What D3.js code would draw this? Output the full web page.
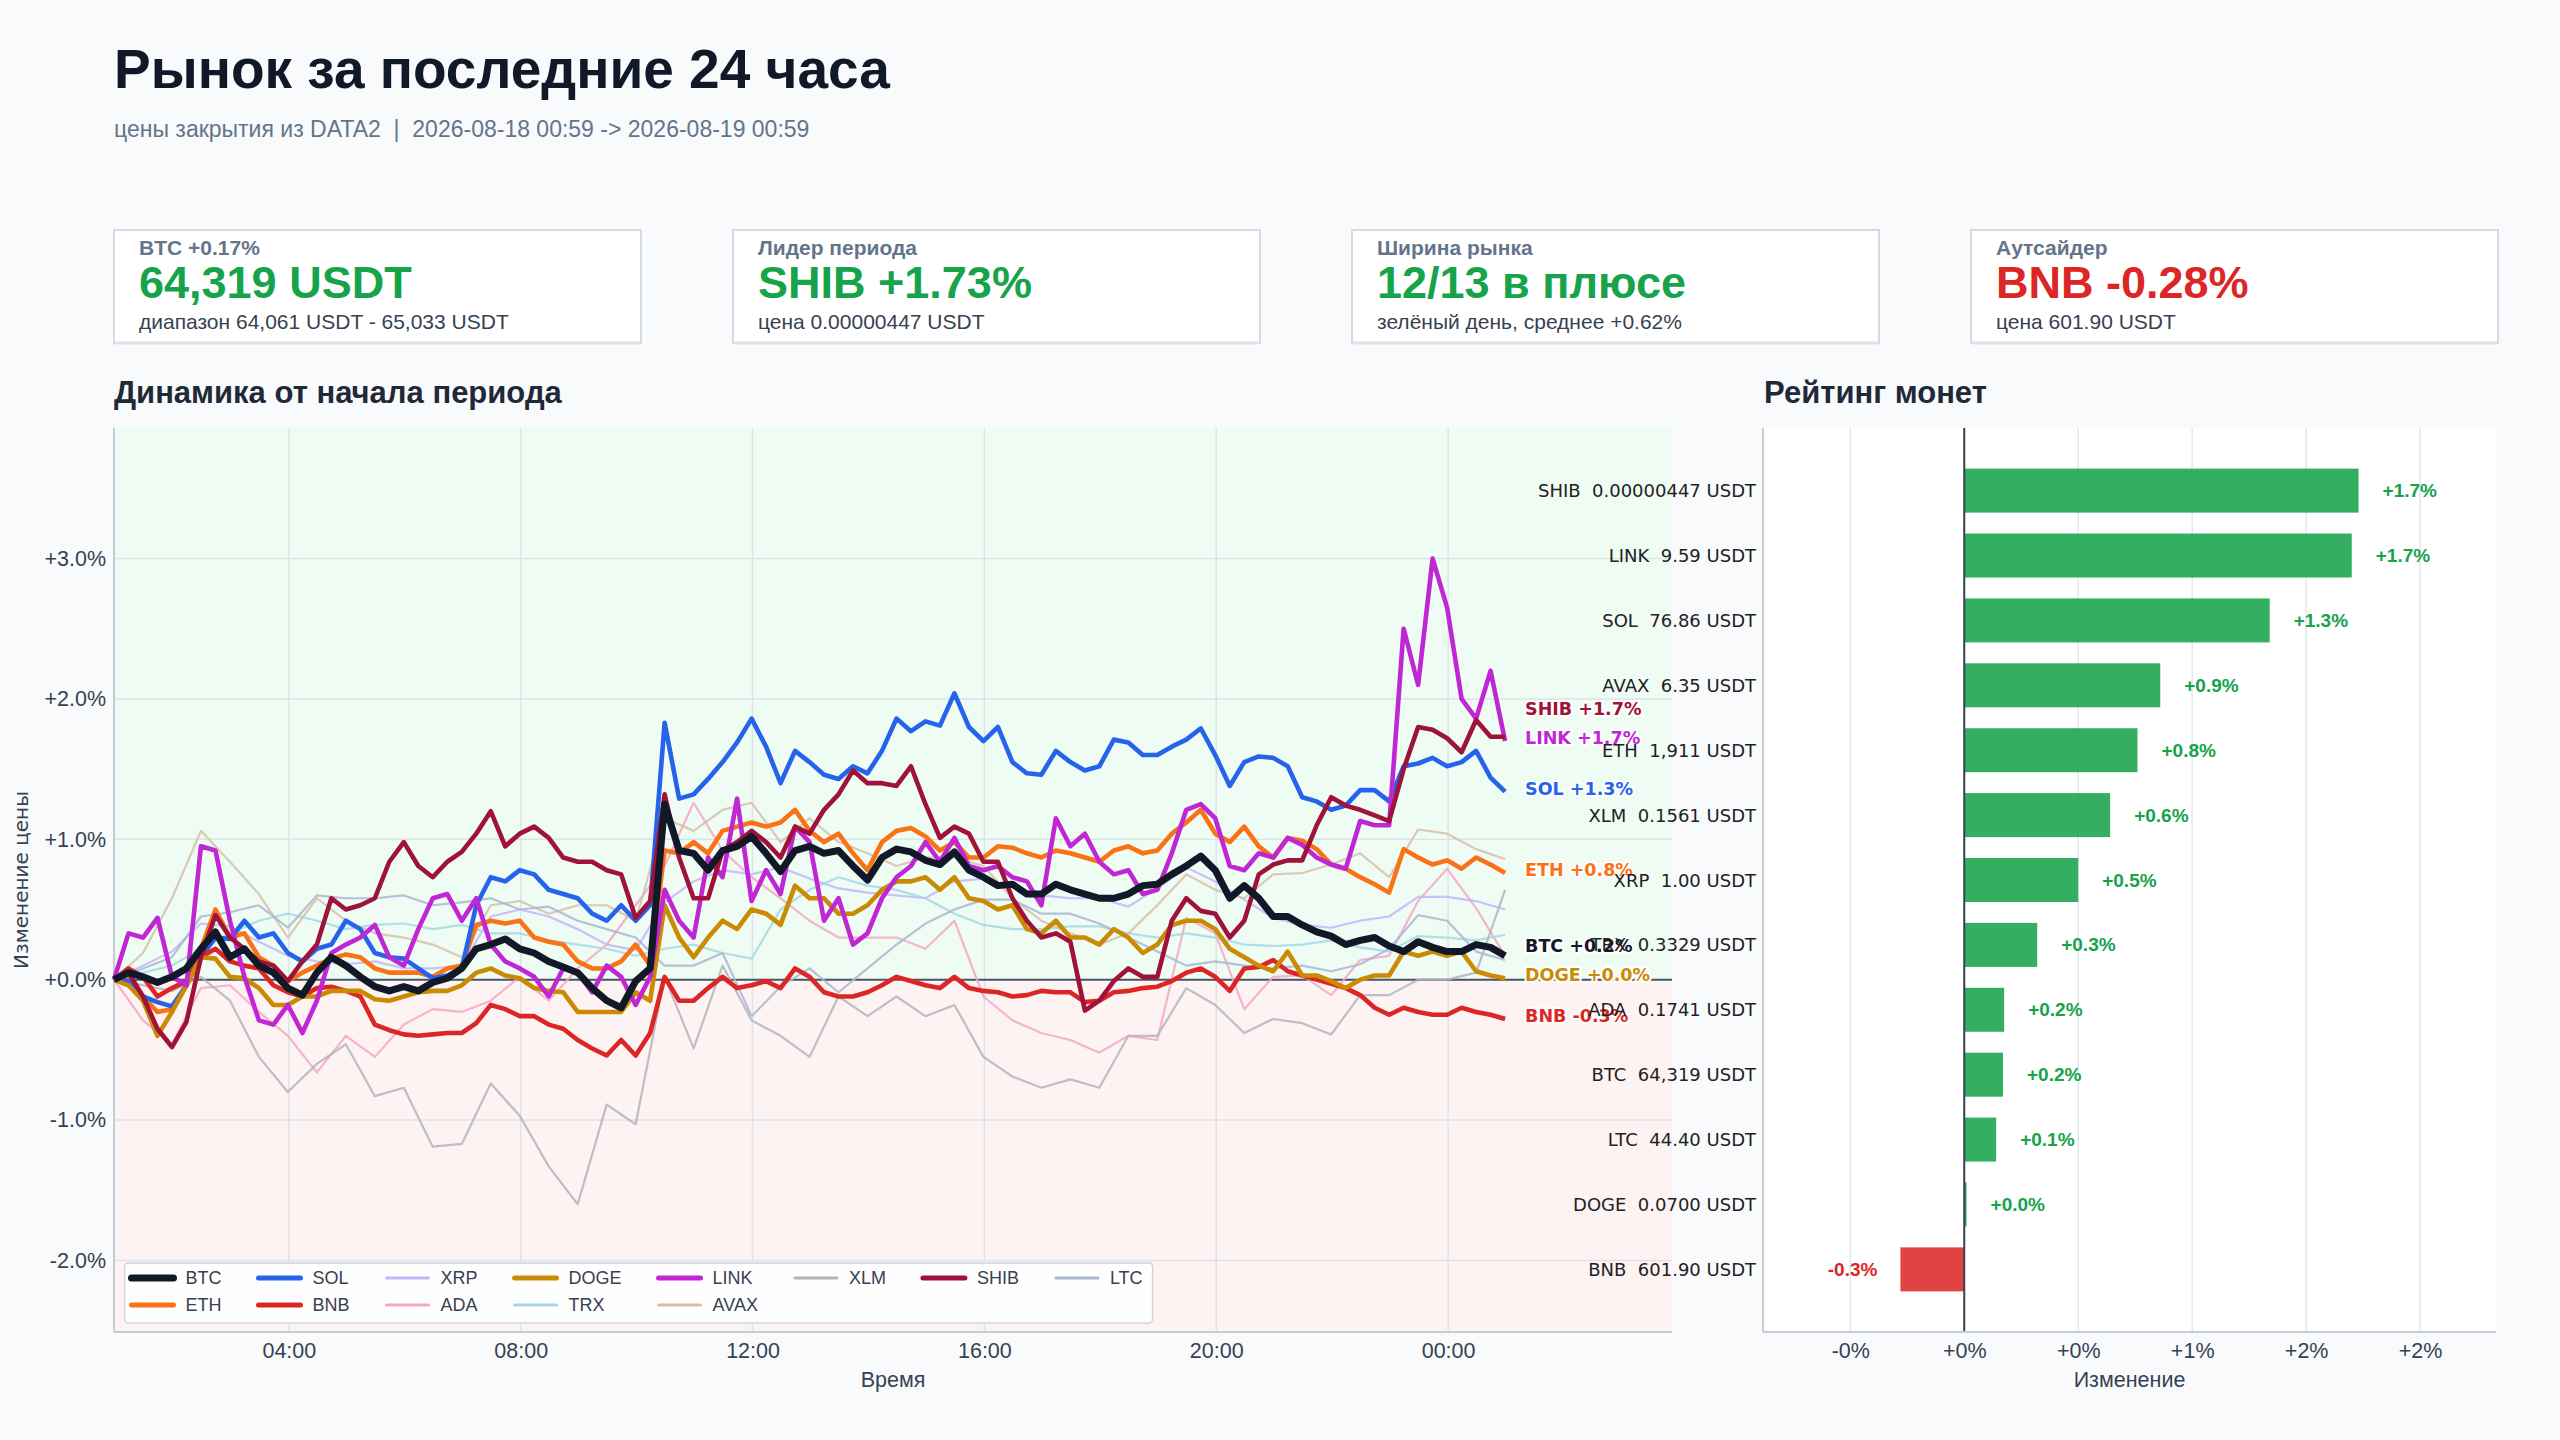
<!DOCTYPE html>
<html>
<head>
<meta charset="utf-8">
<script src="https://cdn.jsdelivr.net/npm/d3@7"></script>
<style>
  body { margin: 0; background: #f8fafc; }
  text { font-family: 'Liberation Sans', Arial, sans-serif; white-space: pre; }
</style>
</head>
<body>
<svg id="page" width="2560" height="1440"></svg>
<script>
// --- data ---
var coins = ['BTC', 'ETH', 'SOL', 'BNB', 'XRP', 'ADA', 'DOGE', 'TRX', 'LINK', 'AVAX', 'XLM', 'SHIB', 'LTC']
var highlighted = ['BTC', 'ETH', 'SOL', 'BNB', 'DOGE', 'LINK', 'SHIB']
var periodStart = new Date(2026, 7, 18, 0, 59)
var periodEnd = new Date(2026, 7, 19, 0, 59)

// % change from the first close, every 15 min (thick lines)
var btc = [0,0.05,0.02,-0.02,0.02,0.08,0.22,0.34,0.16,0.22,0.10,0.05,-0.06,-0.11,0.05,0.16,0.10,0.02,-0.05,-0.08,-0.05,-0.08,-0.02,0.01,0.08,0.22,0.25,0.29,0.22,
  0.19,0.13,0.09,0.05,-0.06,-0.15,-0.20,-0.01,0.08,1.25,0.92,0.90,0.78,0.92,0.95,1.02,0.90,0.77,0.92,0.95,0.90,0.92,0.81,0.71,0.87,0.93,0.91,0.85,
  0.82,0.91,0.78,0.73,0.67,0.68,0.61,0.61,0.68,0.64,0.61,0.58,0.58,0.61,0.67,0.68,0.75,0.81,0.88,0.78,0.58,0.67,0.58,
  0.45,0.45,0.39,0.34,0.31,0.25,0.28,0.30,0.24,0.20,0.27,0.23,0.20,0.20,0.25,0.23,0.17]
var eth = [0,0.01,-0.12,-0.23,-0.21,-0.04,0.22,0.50,0.30,0.33,0.16,0.10,-0.01,0.05,0.10,0.15,0.18,0.16,0.08,0.05,0.05,0.05,0.02,0.08,0.10,0.39,0.42,0.40,0.42,
  0.30,0.27,0.25,0.13,0.08,0.08,0.13,0.25,0.10,0.92,0.90,0.98,0.90,1.06,1.09,1.12,1.09,1.12,1.21,1.06,0.98,1.04,0.90,0.78,0.98,1.06,1.08,1.02,
  0.92,0.98,0.87,0.87,0.95,0.94,0.90,0.87,0.92,0.90,0.87,0.84,0.92,0.95,0.90,0.92,1.04,1.12,1.21,1.04,0.98,1.09,0.95,
  0.87,1.01,0.99,0.93,0.82,0.79,0.73,0.68,0.62,0.93,0.87,0.82,0.85,0.79,0.87,0.82,0.76]
var sol = [0,-0.01,-0.12,-0.16,-0.19,-0.04,0.16,0.30,0.29,0.42,0.30,0.33,0.19,0.13,0.22,0.25,0.42,0.36,0.19,0.16,0.15,0.08,0.01,0.03,0.08,0.53,0.73,0.70,0.78,
  0.75,0.64,0.61,0.58,0.47,0.42,0.53,0.42,0.53,1.83,1.29,1.32,1.43,1.55,1.69,1.86,1.66,1.40,1.63,1.55,1.46,1.43,1.52,1.47,1.63,1.86,1.77,1.84,
  1.81,2.04,1.80,1.70,1.80,1.55,1.47,1.46,1.63,1.55,1.49,1.52,1.71,1.69,1.60,1.60,1.66,1.71,1.79,1.60,1.38,1.55,1.59,
  1.58,1.52,1.30,1.27,1.21,1.24,1.35,1.35,1.27,1.52,1.54,1.58,1.52,1.55,1.63,1.44,1.34]
var bnb = [0,0.08,0.02,-0.12,-0.06,-0.01,0.16,0.22,0.13,0.10,0.08,-0.04,-0.09,-0.12,-0.06,-0.05,-0.08,-0.12,-0.32,-0.36,-0.39,-0.40,-0.39,-0.38,-0.38,-0.31,-0.18,-0.21,-0.26,
  -0.26,-0.32,-0.35,-0.43,-0.49,-0.54,-0.43,-0.54,-0.38,0.02,-0.15,-0.15,-0.06,0.02,-0.06,-0.04,-0.01,-0.06,0.08,0.02,-0.09,-0.12,-0.12,-0.09,-0.04,0.02,-0.01,-0.04,
  -0.06,0.02,-0.06,-0.08,-0.09,-0.12,-0.11,-0.08,-0.09,-0.09,-0.16,-0.15,-0.09,-0.08,-0.06,-0.05,-0.01,0.05,0.08,0.02,-0.08,0.08,0.09,
  0.14,0.06,0.03,0.00,-0.03,-0.06,-0.11,-0.20,-0.25,-0.20,-0.23,-0.25,-0.25,-0.20,-0.23,-0.25,-0.28]
var doge = [0,-0.04,-0.15,-0.40,-0.23,-0.04,0.16,0.15,0.02,0.01,-0.06,-0.18,-0.18,-0.12,-0.12,-0.08,-0.08,-0.08,-0.14,-0.15,-0.12,-0.09,-0.08,-0.08,-0.04,0.05,0.08,0.03,0.01,
  -0.06,-0.08,-0.09,-0.23,-0.23,-0.23,-0.23,-0.09,-0.15,0.53,0.30,0.16,0.30,0.42,0.36,0.50,0.47,0.39,0.67,0.58,0.58,0.47,0.47,0.53,0.64,0.70,0.70,0.73,
  0.64,0.73,0.58,0.56,0.50,0.53,0.36,0.33,0.42,0.30,0.30,0.25,0.36,0.30,0.19,0.25,0.39,0.42,0.42,0.36,0.22,0.16,0.10,
  0.06,0.20,0.03,0.03,-0.01,-0.06,0.00,0.03,0.03,0.20,0.17,0.20,0.17,0.20,0.06,0.03,0.01]
var link = [0,0.33,0.30,0.44,0.02,-0.04,0.95,0.92,0.42,0.02,-0.29,-0.32,-0.18,-0.38,-0.15,0.19,0.25,0.30,0.39,0.16,0.10,0.36,0.58,0.61,0.42,0.58,0.25,0.13,0.08,
  0.02,-0.12,0.08,0.05,-0.09,0.10,0.02,-0.18,0.02,0.64,0.42,0.30,0.87,0.73,1.29,0.56,0.78,0.61,1.09,0.98,0.42,0.58,0.25,0.33,0.58,0.73,0.81,0.98,
  0.84,1.01,0.81,0.78,0.81,0.73,0.70,0.53,1.15,0.95,1.04,0.84,0.75,0.78,0.61,0.64,0.90,1.21,1.25,1.15,0.81,0.78,0.90,
  0.87,1.01,0.96,0.87,0.82,0.79,1.13,1.10,1.10,2.50,2.10,3.00,2.65,2.00,1.86,2.20,1.70]
var shib = [0,0.05,-0.12,-0.35,-0.48,-0.30,0.16,0.46,0.30,0.22,0.13,0.10,-0.01,0.13,0.25,0.58,0.50,0.53,0.58,0.84,0.98,0.81,0.73,0.84,0.91,1.04,1.20,0.95,1.04,
  1.09,1.01,0.87,0.84,0.84,0.78,0.75,0.44,0.56,1.32,0.87,0.58,0.58,0.92,0.98,1.06,0.98,0.87,1.09,1.04,1.21,1.32,1.49,1.40,1.40,1.38,1.52,1.25,
  1.01,1.09,1.04,0.84,0.84,0.58,0.42,0.30,0.33,0.27,-0.22,-0.15,-0.01,0.08,0.02,0.02,0.42,0.58,0.49,0.47,0.30,0.42,0.75,
  0.82,0.85,0.85,1.10,1.30,1.24,1.21,1.17,1.13,1.50,1.80,1.78,1.72,1.62,1.85,1.73,1.73]

// every 30 min (thin lines)
var xrp = [0,0.10,0.20,0.40,0.38,0.27,0.17,0.13,0.11,0.13,0.08,0.08,0.10,0.45,0.50,0.45,0.36,0.25,0.21,0.55,0.70,0.78,0.75,0.80,0.72,
  0.65,0.62,0.60,0.58,0.70,0.72,0.66,0.60,0.58,0.58,0.52,0.65,0.80,0.70,0.57,0.44,0.39,0.37,0.42,0.45,0.59,0.59,0.56,0.50]
var ada = [0,-0.29,-0.46,-0.06,-0.04,-0.23,-0.40,-0.66,-0.40,-0.55,-0.32,-0.21,-0.23,-0.15,0.02,-0.15,0.08,0.25,0.53,0.81,1.26,0.92,0.73,0.58,0.42,
  0.30,0.30,0.30,0.22,0.42,-0.12,-0.29,-0.38,-0.43,-0.52,-0.40,-0.43,0.44,0.33,-0.21,0.02,0.03,-0.11,0.14,0.17,0.56,0.79,0.51,0.17]
var trx = [0,0.05,0.10,0.22,0.33,0.42,0.47,0.42,0.36,0.39,0.40,0.36,0.39,0.33,0.33,0.28,0.25,0.22,0.17,0.22,0.25,0.19,0.15,0.50,0.64,
  0.73,0.67,0.64,0.58,0.47,0.39,0.36,0.36,0.38,0.38,0.33,0.30,0.33,0.30,0.25,0.24,0.25,0.28,0.23,0.20,0.31,0.30,0.28,0.32]
var avax = [0,0.19,0.58,1.06,0.84,0.61,0.30,0.58,0.42,0.33,0.30,0.25,0.16,0.53,0.56,0.47,0.53,0.53,0.42,1.15,1.06,1.21,1.26,0.98,1.15,
  0.98,0.90,0.81,0.87,0.87,0.81,0.58,0.42,0.33,0.25,0.33,0.53,0.75,0.64,0.58,0.75,0.76,0.82,0.90,0.73,1.07,1.04,0.93,0.86]
var xlm = [0,-0.04,-0.08,0.02,-0.15,-0.55,-0.80,-0.60,-0.46,-0.83,-0.77,-1.19,-1.17,-0.74,-0.97,-1.33,-1.60,-0.89,-1.03,0.02,-0.49,0.10,-0.29,-0.40,-0.55,
  -0.12,-0.26,-0.12,-0.26,-0.18,-0.55,-0.69,-0.77,-0.71,-0.77,-0.40,-0.40,-0.06,-0.18,-0.38,-0.28,-0.31,-0.39,-0.11,-0.11,0.00,0.00,0.05,0.64]
var ltc = [0,0.08,0.16,0.45,0.48,0.53,0.37,0.60,0.58,0.58,0.60,0.53,0.55,0.58,0.50,0.52,0.42,0.36,0.30,0.10,0.10,0.19,-0.26,-0.05,0.08,
  -0.09,0.08,0.25,0.40,0.50,0.57,0.57,0.47,0.47,0.40,0.30,0.20,0.10,0.13,0.10,0.08,0.10,0.06,0.11,0.22,0.46,0.42,0.20,0.14]

// ranking panel
var rankCoins = ['SHIB', 'LINK', 'SOL', 'AVAX', 'ETH', 'XLM', 'XRP', 'TRX', 'ADA', 'BTC', 'LTC', 'DOGE', 'BNB']
var rankChange = [1.73, 1.70, 1.34, 0.86, 0.76, 0.64, 0.50, 0.32, 0.175, 0.17, 0.14, 0.01, -0.28]
var rankPrice = ['0.00000447', '9.59', '76.86', '6.35', '1,911', '0.1561', '1.00', '0.3329', '0.1741', '64,319', '44.40', '0.0700', '601.90']

var yTicks = [-2, -1, 0, 1, 2, 3]
var xTickHours = [4, 8, 12, 16, 20, 24]
var barTicks = [-0.5, 0, 0.5, 1, 1.5, 2]
var barTickLabels = ['-0%', '+0%', '+0%', '+1%', '+2%', '+2%']

var cardLabels = ['BTC +0.17%', 'Лидер периода', 'Ширина рынка', 'Аутсайдер']
var cardValues = ['64,319 USDT', 'SHIB +1.73%', '12/13 в плюсе', 'BNB -0.28%']
var cardNotes = ['диапазон 64,061 USDT - 65,033 USDT', 'цена 0.00000447 USDT', 'зелёный день, среднее +0.62%', 'цена 601.90 USDT']
var cardUp = [true, true, true, false]

var series = { BTC: btc, ETH: eth, SOL: sol, BNB: bnb, XRP: xrp, ADA: ada, DOGE: doge, TRX: trx, LINK: link, AVAX: avax, XLM: xlm, SHIB: shib, LTC: ltc }

// --- styles ---
var colors = {
  BTC: '#111827', ETH: '#f97316', SOL: '#2563eb', BNB: '#dc2626', XRP: '#c4b5fd', ADA: '#f4a7c6', DOGE: '#ca8a04',
  TRX: '#a5d8e2', LINK: '#c026d3', AVAX: '#d6bfa8', XLM: '#b4b4bc', SHIB: '#9f1239', LTC: '#a9b6d3'
}
var GREEN = '#16a34a', RED = '#dc2626'
function isThick(c) { return highlighted.indexOf(c) >= 0 }
function widthOf(c) { return c === 'BTC' ? 7 : (isThick(c) ? 4.6 : 2.2) }

// hyphen instead of unicode minus, like the original
var fmt = d3.formatLocale({ decimal: '.', thousands: ',', grouping: [3], currency: ['', ''], minus: '-' }).format
var pct1 = function (v) { return fmt('+.1f')(v) + '%' }

var svg = d3.select('#page')
var LS = "'Liberation Sans', Arial, sans-serif"
var DV = "'DejaVu Sans', sans-serif"

// --- header ---
svg.append('text').attr('x', 114).attr('y', 88)
  .style('font-size', '55px').style('font-weight', 'bold').attr('fill', '#111827')
  .text('Рынок за последние 24 часа')
svg.append('text').attr('x', 114).attr('y', 137)
  .style('font-size', '23px').attr('fill', '#64748b')
  .text('цены закрытия из DATA2  |  2026-08-18 00:59 -> 2026-08-19 00:59')

// --- cards ---
var cardX = [114, 733, 1352, 1971]
cardX.forEach(function (cx, i) {
  var g = svg.append('g').attr('transform', 'translate(' + cx + ',230)')
  g.append('rect').attr('x', 0).attr('y', 0).attr('width', 527).attr('height', 113)
    .attr('fill', '#ffffff').attr('stroke', '#d5dbe3').attr('stroke-width', 2)
  g.append('line').attr('x1', 1).attr('x2', 526).attr('y1', 113).attr('y2', 113)
    .attr('stroke', '#dde2e9').attr('stroke-width', 3)
  g.append('text').attr('x', 25).attr('y', 25).style('font-size', '21px').style('font-weight', 'bold')
    .attr('fill', '#64748b').text(cardLabels[i])
  g.append('text').attr('x', 25).attr('y', 68).style('font-size', '45px').style('font-weight', 'bold')
    .attr('fill', cardUp[i] ? GREEN : RED).text(cardValues[i])
  g.append('text').attr('x', 25).attr('y', 99).style('font-size', '21px')
    .attr('fill', '#374151').text(cardNotes[i])
})

// --- section titles ---
svg.append('text').attr('x', 114).attr('y', 403).style('font-size', '31px').style('font-weight', 'bold')
  .attr('fill', '#1f2937').text('Динамика от начала периода')
svg.append('text').attr('x', 1764).attr('y', 403).style('font-size', '31px').style('font-weight', 'bold')
  .attr('fill', '#1f2937').text('Рейтинг монет')

// --- line chart ---
var L = { x0: 114, x1: 1672, y0: 428, y1: 1332 }
var span = periodEnd - periodStart
var x = d3.scaleTime().domain([periodStart, new Date(+periodEnd + span * 0.12)]).range([L.x0, L.x1])
var y = d3.scaleLinear().domain([-2.51, 3.93]).range([L.y1, L.y0])

var chart = svg.append('g')
chart.append('rect').attr('x', L.x0).attr('y', L.y0).attr('width', L.x1 - L.x0).attr('height', y(0) - L.y0)
  .attr('fill', '#effcf3')
chart.append('rect').attr('x', L.x0).attr('y', y(0)).attr('width', L.x1 - L.x0).attr('height', L.y1 - y(0))
  .attr('fill', '#fdf3f3')

var xTickDates = xTickHours.map(function (h) { return new Date(2026, 7, 18, h, 0) })

chart.selectAll('.hgrid').data(yTicks).enter().append('line')
  .attr('x1', L.x0).attr('x2', L.x1).attr('y1', function (d) { return y(d) }).attr('y2', function (d) { return y(d) })
  .attr('stroke', '#dde3ea').attr('stroke-width', 1.5)
chart.selectAll('.vgrid').data(xTickDates).enter().append('line')
  .attr('x1', function (d) { return x(d) }).attr('x2', function (d) { return x(d) }).attr('y1', L.y0).attr('y2', L.y1)
  .attr('stroke', '#dde3ea').attr('stroke-width', 1.5)

var yAxis = chart.append('g').attr('transform', 'translate(' + L.x0 + ',0)')
  .call(d3.axisLeft(y).tickValues(yTicks).tickSize(0).tickPadding(8).tickFormat(pct1))
yAxis.select('.domain').remove()
yAxis.selectAll('text').style('font-size', '21.5px').style('font-family', LS).attr('fill', '#374151')

var xAxis = chart.append('g').attr('transform', 'translate(0,' + L.y1 + ')')
  .call(d3.axisBottom(x).tickValues(xTickDates).tickSize(0).tickPadding(11).tickFormat(d3.timeFormat('%H:%M')))
xAxis.select('.domain').remove()
xAxis.selectAll('text').style('font-size', '21.5px').style('font-family', LS).attr('fill', '#374151')

chart.append('line').attr('x1', L.x0).attr('x2', L.x0).attr('y1', L.y0).attr('y2', L.y1)
  .attr('stroke', '#c6ccd4').attr('stroke-width', 2)
chart.append('line').attr('x1', L.x0).attr('x2', L.x1).attr('y1', L.y1).attr('y2', L.y1)
  .attr('stroke', '#c6ccd4').attr('stroke-width', 2)

chart.append('text').attr('x', 893).attr('y', 1387).attr('text-anchor', 'middle')
  .style('font-size', '21.5px').attr('fill', '#374151').text('Время')
chart.append('text').attr('transform', 'translate(28,880) rotate(-90)').attr('text-anchor', 'middle')
  .style('font-size', '20px').style('font-family', DV).attr('fill', '#374151').text('Изменение цены')

chart.append('line').attr('x1', L.x0).attr('x2', L.x1).attr('y1', y(0)).attr('y2', y(0))
  .attr('stroke', '#475569').attr('stroke-width', 2)

function pointsOf(c) {
  var arr = series[c]
  var step = span / (arr.length - 1)
  return arr.map(function (v, i) { return { t: new Date(+periodStart + i * step), v: v } })
}
var line = d3.line().x(function (d) { return x(d.t) }).y(function (d) { return y(d.v) })

var drawOrder = coins.filter(function (c) { return !isThick(c) })
  .concat(['ETH', 'SOL', 'BNB', 'DOGE', 'LINK', 'SHIB', 'BTC'])

chart.selectAll('.series').data(drawOrder).enter().append('path')
  .attr('class', 'series')
  .attr('d', function (c) { return line(pointsOf(c)) })
  .attr('fill', 'none')
  .attr('stroke', function (c) { return colors[c] })
  .attr('stroke-width', function (c) { return widthOf(c) })
  .attr('stroke-opacity', function (c) { return isThick(c) ? 1 : 0.85 })
  .attr('stroke-linejoin', 'round')

// end labels, pushed apart from the bottom up
var ends = highlighted.map(function (c) {
  var arr = series[c]
  return { c: c, v: arr[arr.length - 1], y: y(arr[arr.length - 1]) }
}).sort(function (a, b) { return a.v - b.v })
for (var i = 1; i < ends.length; i++) {
  ends[i].y = Math.min(ends[i].y, ends[i - 1].y - 29)
}
chart.selectAll('.endlab').data(ends).enter().append('text')
  .attr('x', x(periodEnd) + 20).attr('y', function (d) { return d.y - 3 })
  .attr('dominant-baseline', 'central')
  .style('font-size', '17.5px').style('font-weight', 'bold').style('font-family', DV)
  .attr('fill', function (d) { return colors[d.c] })
  .attr('stroke', '#ffffff').attr('stroke-width', 4).attr('paint-order', 'stroke').attr('stroke-linejoin', 'round')
  .text(function (d) { return d.c + ' ' + pct1(d.v) })

// legend: 8 columns filled column by column, first columns get two rows
var ncol = 8
var nrow = Math.ceil(coins.length / ncol)
var fullCols = coins.length % ncol || ncol
var columns = []
var idx = 0
for (var col = 0; col < ncol; col++) {
  var n = col < fullCols ? nrow : nrow - 1
  columns.push(coins.slice(idx, idx + n))
  idx += n
}
var legend = chart.append('g').attr('transform', 'translate(124.5,1263)')
var legendBox = legend.append('rect').attr('rx', 4).attr('fill', '#ffffff').attr('fill-opacity', 0.92)
  .attr('stroke', '#cfd5dd').attr('stroke-width', 1.5)
var colX = 7
columns.forEach(function (items, ci) {
  var maxW = 0
  items.forEach(function (c, r) {
    var ly = 15 + r * 27
    legend.append('line').attr('x1', colX).attr('x2', colX + 42).attr('y1', ly).attr('y2', ly)
      .attr('stroke', colors[c]).attr('stroke-width', c === 'BTC' ? 7 : (isThick(c) ? 5 : 3))
      .attr('stroke-linecap', 'round')
    var t = legend.append('text').attr('x', colX + 54).attr('y', ly).attr('dominant-baseline', 'central')
      .style('font-size', '18px').attr('fill', '#374151').text(c)
    maxW = Math.max(maxW, t.node().getComputedTextLength())
  })
  colX += 54 + maxW + (ci < columns.length - 1 ? 37 : 10)
})
legendBox.attr('x', 0).attr('y', 0).attr('width', colX).attr('height', 60)

// --- ranking bars ---
var B = { x0: 1763, x1: 2496, y0: 428, y1: 1332 }
var lo = d3.min(rankChange), hi = d3.max(rankChange), pad = (hi - lo) * 0.3
var bx = d3.scaleLinear().domain([lo - pad, hi + pad]).range([B.x0, B.x1])
var by = d3.scalePoint().domain(rankCoins).range([B.y0, B.y1]).padding(0.965)

var bars = svg.append('g')
bars.append('rect').attr('x', B.x0).attr('y', B.y0).attr('width', B.x1 - B.x0).attr('height', B.y1 - B.y0)
  .attr('fill', '#ffffff')
bars.selectAll('.bgrid').data(barTicks).enter().append('line')
  .attr('x1', function (d) { return bx(d) }).attr('x2', function (d) { return bx(d) }).attr('y1', B.y0).attr('y2', B.y1)
  .attr('stroke', '#e2e7ee').attr('stroke-width', 1.5)

var rows = rankCoins.map(function (c, i) { return { c: c, v: rankChange[i], price: rankPrice[i] } })

bars.selectAll('.bar').data(rows).enter().append('rect')
  .attr('x', function (d) { return bx(Math.min(0, d.v)) })
  .attr('width', function (d) { return Math.abs(bx(d.v) - bx(0)) })
  .attr('y', function (d) { return by(d.c) - 22 })
  .attr('height', 44)
  .attr('fill', function (d) { return d.v >= 0 ? GREEN : RED })
  .attr('fill-opacity', 0.87)

bars.append('line').attr('x1', bx(0)).attr('x2', bx(0)).attr('y1', B.y0).attr('y2', B.y1)
  .attr('stroke', '#374151').attr('stroke-width', 2)

bars.selectAll('.val').data(rows).enter().append('text')
  .attr('x', function (d) { return d.v >= 0 ? bx(d.v) + 24 : bx(d.v) - 23 })
  .attr('y', function (d) { return by(d.c) })
  .attr('dominant-baseline', 'central')
  .attr('text-anchor', function (d) { return d.v >= 0 ? 'start' : 'end' })
  .style('font-size', '19px').style('font-weight', 'bold')
  .attr('fill', function (d) { return d.v >= 0 ? GREEN : RED })
  .text(function (d) { return pct1(d.v) })

bars.selectAll('.cat').data(rows).enter().append('text')
  .attr('x', B.x0 - 7).attr('y', function (d) { return by(d.c) })
  .attr('dominant-baseline', 'central').attr('text-anchor', 'end')
  .style('font-size', '18px').style('font-family', DV).attr('fill', '#222222')
  .text(function (d) { return d.c + '  ' + d.price + ' USDT' })

bars.append('line').attr('x1', B.x0).attr('x2', B.x0).attr('y1', B.y0).attr('y2', B.y1)
  .attr('stroke', '#c6ccd4').attr('stroke-width', 2)
bars.append('line').attr('x1', B.x0).attr('x2', B.x1).attr('y1', B.y1).attr('y2', B.y1)
  .attr('stroke', '#c6ccd4').attr('stroke-width', 2)

var bAxis = bars.append('g').attr('transform', 'translate(0,' + B.y1 + ')')
  .call(d3.axisBottom(bx).tickValues(barTicks).tickSize(0).tickPadding(11)
    .tickFormat(function (d, i) { return barTickLabels[i] }))
bAxis.select('.domain').remove()
bAxis.selectAll('text').style('font-size', '21.5px').style('font-family', LS).attr('fill', '#374151')

bars.append('text').attr('x', (B.x0 + B.x1) / 2).attr('y', 1387).attr('text-anchor', 'middle')
  .style('font-size', '21.5px').attr('fill', '#374151').text('Изменение')
</script>
</body>
</html>
